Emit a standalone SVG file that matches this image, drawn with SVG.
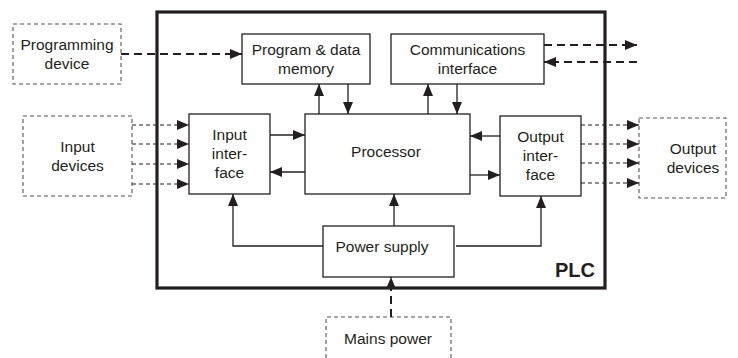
<svg xmlns="http://www.w3.org/2000/svg" width="738" height="358" viewBox="0 0 738 358">
<style>
text{font-family:"Liberation Sans",Arial,sans-serif;font-size:15.5px;fill:#231f20;text-anchor:middle}
.box{fill:#fff;stroke:#231f20;stroke-width:1.3}
.dbox{fill:#fff;stroke:#555;stroke-width:1.1;stroke-dasharray:4 3}
.ln{fill:none;stroke:#231f20;stroke-width:1.3}
.dl{fill:none;stroke:#231f20;stroke-width:1.1;stroke-dasharray:4 3}
.dt{fill:none;stroke:#231f20;stroke-width:2;stroke-dasharray:8 5}
</style>
<defs>
<marker id="ah" markerUnits="userSpaceOnUse" markerWidth="13" markerHeight="11" refX="12" refY="5" orient="auto" viewBox="0 0 13 11">
<path d="M0,0 L12,5 L0,10 z" fill="#231f20"/>
</marker>
</defs>
<rect width="738" height="358" fill="#fff"/>
<g id="plc">
<rect x="157" y="12" width="448" height="276" fill="none" stroke="#231f20" stroke-width="3.2"/>
<text x="595" y="277" style="font-size:20px;font-weight:bold;text-anchor:end">PLC</text>
</g>
<g id="programming-device">
<rect class="dbox" x="13" y="24" width="108" height="60"/>
<text x="67" y="50">Programming</text>
<text x="67" y="69">device</text>
</g>
<g id="memory">
<rect class="box" x="242" y="34" width="128" height="50"/>
<text x="306" y="55">Program &amp; data</text>
<text x="306" y="74">memory</text>
</g>
<g id="comms">
<rect class="box" x="391" y="34" width="153" height="50"/>
<text x="467.5" y="55">Communications</text>
<text x="467.5" y="74">interface</text>
</g>
<g id="input-devices">
<rect class="dbox" x="23" y="116" width="109" height="80"/>
<text x="77.5" y="152">Input</text>
<text x="77.5" y="171">devices</text>
</g>
<g id="input-interface">
<rect class="box" x="189" y="114" width="81" height="80"/>
<text x="229.5" y="140">Input</text>
<text x="229.5" y="159">inter-</text>
<text x="229.5" y="178">face</text>
</g>
<g id="processor">
<rect class="box" x="305" y="114" width="165" height="80"/>
<text x="386" y="157">Processor</text>
</g>
<g id="output-interface">
<rect class="box" x="500" y="116" width="81" height="80"/>
<text x="540.5" y="142">Output</text>
<text x="540.5" y="161">inter-</text>
<text x="540.5" y="180">face</text>
</g>
<g id="output-devices">
<rect class="dbox" x="639" y="118" width="87" height="80"/>
<text x="693" y="154">Output</text>
<text x="693" y="173">devices</text>
</g>
<g id="power-supply">
<rect class="box" x="323" y="226" width="131" height="51"/>
<text x="382" y="252">Power supply</text>
</g>
<g id="mains-power">
<path class="dbox" d="M326,358 V317 H451 V358"/>
<text x="388" y="344">Mains power</text>
</g>
<g id="connectors">
<path class="dt" d="M121,54 H242" marker-end="url(#ah)"/>
<path class="dt" d="M544,45 H637" marker-end="url(#ah)"/>
<path class="dt" d="M637,62 H544" marker-end="url(#ah)"/>
<path class="ln" d="M319,114 V84" marker-end="url(#ah)"/>
<path class="ln" d="M348,84 V114" marker-end="url(#ah)"/>
<path class="ln" d="M428,114 V84" marker-end="url(#ah)"/>
<path class="ln" d="M457,84 V114" marker-end="url(#ah)"/>
<path class="ln" d="M270,135 H305" marker-end="url(#ah)"/>
<path class="ln" d="M305,172 H270" marker-end="url(#ah)"/>
<path class="ln" d="M500,136 H470" marker-end="url(#ah)"/>
<path class="ln" d="M470,175 H500" marker-end="url(#ah)"/>
<path class="dl" d="M132,125 H189" marker-end="url(#ah)"/>
<path class="dl" d="M132,144 H189" marker-end="url(#ah)"/>
<path class="dl" d="M132,164 H189" marker-end="url(#ah)"/>
<path class="dl" d="M132,184 H189" marker-end="url(#ah)"/>
<path class="dl" d="M581,125 H639" marker-end="url(#ah)"/>
<path class="dl" d="M581,144 H639" marker-end="url(#ah)"/>
<path class="dl" d="M581,163 H639" marker-end="url(#ah)"/>
<path class="dl" d="M581,183 H639" marker-end="url(#ah)"/>
<path class="ln" d="M323,246 H233 V194" marker-end="url(#ah)"/>
<path class="ln" d="M456,246 H541 V196" marker-end="url(#ah)"/>
<path class="ln" d="M394,226 V194" marker-end="url(#ah)"/>
<path class="dt" d="M391,317 V277" marker-end="url(#ah)"/>
</g>
</svg>
